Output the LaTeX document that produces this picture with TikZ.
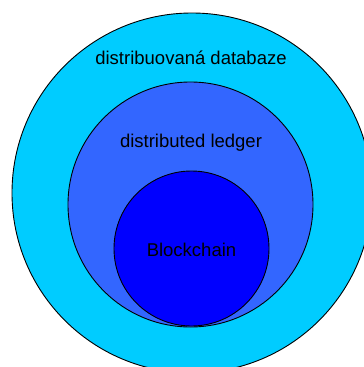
\documentclass[tikz,border=0pt]{standalone}
\usepackage{fontspec}
\setmainfont{Liberation Sans}
\definecolor{dbcyan}{HTML}{00CCFF}
\definecolor{ledgerblue}{HTML}{3366FF}
\definecolor{chainblue}{HTML}{0000FF}
\begin{document}
\begin{tikzpicture}[x=1bp,y=-1bp,
  ring/.style={circle, draw=black, line width=0.9bp, inner sep=0pt},
  label/.style={font=\fontsize{18.5bp}{22bp}\selectfont, text=black, inner sep=0pt}]
  \useasboundingbox (0,0) rectangle (364,367);
  \begin{scope}
    \clip (0,0) rectangle (364,367);
    % nested sets, largest first
    \node[ring, fill=dbcyan, minimum size=360bp] (db) at (192,193) {};
    \node[ring, fill=ledgerblue, minimum size=245bp] (ledger) at (190.5,204.5) {};
    \node[ring, fill=chainblue, minimum size=155bp] (chain) at (191.5,248.5) {};
  \end{scope}
  \node[label] (dbtext) at (191,58) {distribuovaná databaze};
  \node[label] (ledgertext) at (191,143) {distributed ledger};
  \node[label] (chaintext) at (191.5,250) {Blockchain};
\end{tikzpicture}
\end{document}
